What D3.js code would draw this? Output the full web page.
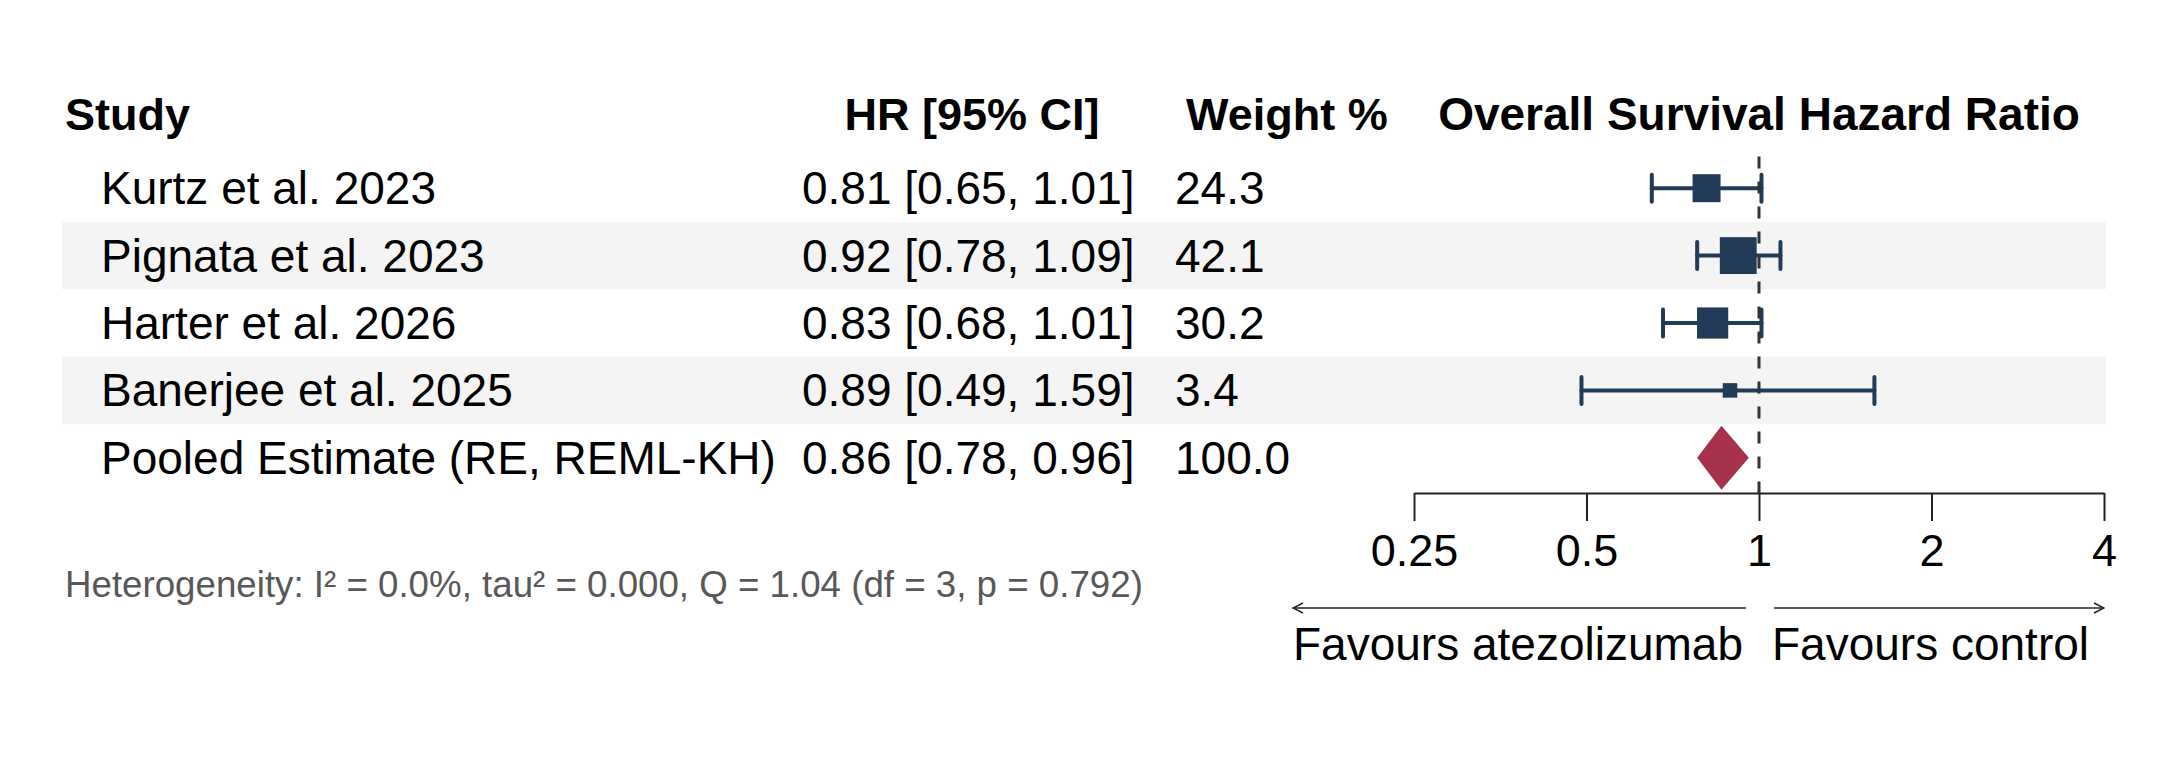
<!DOCTYPE html>
<html>
<head>
<meta charset="utf-8">
<script src="https://cdn.jsdelivr.net/npm/d3@7"></script>
<style>
  html, body { margin: 0; padding: 0; background: #ffffff; }
  svg { display: block; }
  text { font-family: "Liberation Sans", Arial, Helvetica, sans-serif; }
</style>
</head>
<body>
<svg id="chart" width="2166" height="761"></svg>
<script>
// ---- data ----
const studies = ["Kurtz et al. 2023", "Pignata et al. 2023", "Harter et al. 2026", "Banerjee et al. 2025", "Pooled Estimate (RE, REML-KH)"];
const hr      = [0.81, 0.92, 0.83, 0.89, 0.86];
const lower   = [0.65, 0.78, 0.68, 0.49, 0.78];
const upper   = [1.01, 1.09, 1.01, 1.59, 0.96];
const weights = [24.3, 42.1, 30.2, 3.4, 100.0];
const isPooled = [false, false, false, false, true];
const tickValues = [0.25, 0.5, 1, 2, 4];
const tickLabels = ["0.25", "0.5", "1", "2", "4"];
const headers = ["Study", "HR [95% CI]", "Weight %", "Overall Survival Hazard Ratio"];
const heterogeneity = "Heterogeneity: I\u00B2 = 0.0%, tau\u00B2 = 0.000, Q = 1.04 (df = 3, p = 0.792)";
const favourLabels = ["Favours atezolizumab", "Favours control"];

// ---- layout ----
const svg = d3.select("#chart");
const navy = "#213b59", crimson = "#a5314b", band = "#f4f4f4";
const rowFont = 46, headFont = 45, tickFont = 45, hetFont = 36.7, favFont = 46;

const y = d3.scaleBand().domain(d3.range(studies.length)).range([154.5, 491.5]).padding(0);
const x = d3.scaleLog().base(2).domain([0.25, 4]).range([1414, 2104]);
const sz = d3.scaleSqrt().domain([0, 24.3]).range([0, 28]);

const colStudy = 101, colHead = 65, colHR = 802, colW = 1175;

// background bands
svg.append("g").selectAll("rect")
  .data(d3.range(studies.length).filter(i => i % 2 === 1))
  .join("rect")
  .attr("x", 62).attr("width", x(4) + 2 - 62)
  .attr("y", i => y(i)).attr("height", y.bandwidth())
  .attr("fill", band);

// headers
const hg = svg.append("g").attr("font-weight", "bold").attr("font-size", headFont).attr("fill", "#000");
hg.append("text").attr("x", colHead).attr("y", 130).text(headers[0]);
hg.append("text").attr("x", 972).attr("y", 130).attr("text-anchor", "middle").text(headers[1]);
hg.append("text").attr("x", 1186).attr("y", 130).text(headers[2]);
hg.append("text").attr("x", (x.range()[0] + x.range()[1]) / 2).attr("y", 130)
  .attr("text-anchor", "middle").attr("font-size", 46).text(headers[3]);

// row texts
const rg = svg.append("g").attr("font-size", rowFont).attr("fill", "#000");
const rows = d3.range(studies.length);
const cy = i => y(i) + y.bandwidth() / 2;
rg.selectAll("text.study").data(rows).join("text").attr("class", "study")
  .attr("x", colStudy).attr("y", i => cy(i) + 16).text(i => studies[i]);
rg.selectAll("text.hr").data(rows).join("text").attr("class", "hr")
  .attr("x", colHR).attr("y", i => cy(i) + 16)
  .text(i => `${hr[i].toFixed(2)} [${lower[i].toFixed(2)}, ${upper[i].toFixed(2)}]`);
rg.selectAll("text.w").data(rows).join("text").attr("class", "w")
  .attr("x", colW).attr("y", i => cy(i) + 16).text(i => weights[i].toFixed(1));

// axis
const axisY = 493;
const axis = d3.axisBottom(x).tickValues(tickValues)
  .tickFormat((d, i) => tickLabels[i]).tickSize(28).tickSizeOuter(0).tickPadding(13);
const ag = svg.append("g").attr("transform", `translate(0,${axisY})`).call(axis);
ag.select(".domain").attr("stroke", "#222").attr("stroke-width", 2);
ag.selectAll(".tick line").attr("stroke", "#222").attr("stroke-width", 2);
ag.selectAll(".tick text").attr("font-size", tickFont).attr("fill", "#000")
  .attr("font-family", "'Liberation Sans', Arial, sans-serif");

// CIs
const studyRows = rows.filter(i => !isPooled[i]);
const cg = svg.append("g").attr("stroke", navy).attr("stroke-width", 4).attr("stroke-linecap", "round");
cg.selectAll("line.ci").data(studyRows).join("line").attr("class", "ci")
  .attr("x1", i => x(lower[i])).attr("x2", i => x(upper[i]))
  .attr("y1", cy).attr("y2", cy);
cg.selectAll("line.capL").data(studyRows).join("line")
  .attr("x1", i => x(lower[i])).attr("x2", i => x(lower[i]))
  .attr("y1", i => cy(i) - 13.5).attr("y2", i => cy(i) + 13.5);
cg.selectAll("line.capR").data(studyRows).join("line")
  .attr("x1", i => x(upper[i])).attr("x2", i => x(upper[i]))
  .attr("y1", i => cy(i) - 13.5).attr("y2", i => cy(i) + 13.5);

// squares
const side = i => Math.max(14.5, sz(weights[i]));
svg.append("g").selectAll("rect").data(studyRows).join("rect")
  .attr("fill", navy)
  .attr("x", i => x(hr[i]) - side(i) / 2)
  .attr("y", i => cy(i) - side(i) / 2)
  .attr("width", side)
  .attr("height", side);

// diamond
const pooledRows = rows.filter(i => isPooled[i]);
svg.append("g").selectAll("path").data(pooledRows).join("path")
  .attr("fill", crimson)
  .attr("d", i => {
    const c = cy(i), h = 32;
    return `M${x(lower[i])},${c} L${x(hr[i])},${c - h} L${x(upper[i])},${c} L${x(hr[i])},${c + h} Z`;
  });

// reference line at 1
svg.append("line").attr("x1", x(1)).attr("x2", x(1))
  .attr("y1", y(0) + 2).attr("y2", axisY)
  .attr("stroke", "#333").attr("stroke-width", 3).attr("stroke-dasharray", "12,13");

// heterogeneity
svg.append("text").attr("x", colHead).attr("y", 597)
  .attr("font-size", hetFont).attr("fill", "#585858").text(heterogeneity);

// favours arrows & labels
const arrowY = 608, favY = 660;
const defs = svg.append("defs");
defs.append("marker").attr("id", "arr").attr("viewBox", "0 0 12 12")
  .attr("refX", 11).attr("refY", 6).attr("markerWidth", 12).attr("markerHeight", 12)
  .attr("markerUnits", "userSpaceOnUse").attr("orient", "auto-start-reverse")
  .append("path").attr("d", "M1,1 L11,6 L1,11").attr("fill", "none")
  .attr("stroke", "#222").attr("stroke-width", 1.5);

const fl = svg.append("text").attr("x", x(1) - 16).attr("y", favY).attr("text-anchor", "end")
  .attr("font-size", favFont).attr("fill", "#000").text(favourLabels[0]);
svg.append("text").attr("x", x(1) + 13).attr("y", favY)
  .attr("font-size", favFont).attr("fill", "#000").text(favourLabels[1]);
const lb = fl.node().getBBox();
svg.append("line").attr("x1", x(1) - 13).attr("x2", lb.x)
  .attr("y1", arrowY).attr("y2", arrowY)
  .attr("stroke", "#222").attr("stroke-width", 1.5).attr("marker-end", "url(#arr)");
svg.append("line").attr("x1", x(1) + 15).attr("x2", x(4))
  .attr("y1", arrowY).attr("y2", arrowY)
  .attr("stroke", "#222").attr("stroke-width", 1.5).attr("marker-end", "url(#arr)");
</script>
</body>
</html>
